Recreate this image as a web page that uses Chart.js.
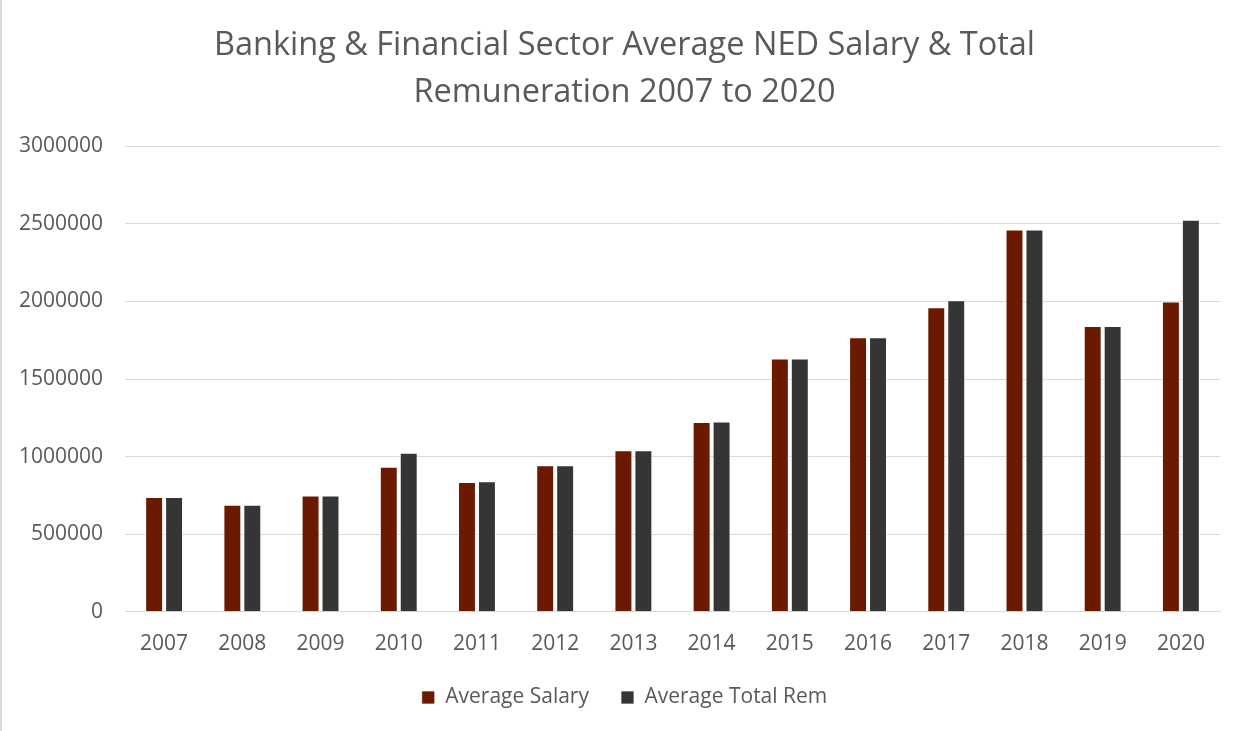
<!DOCTYPE html>
<html>
<head>
<meta charset="utf-8">
<script src="https://cdn.jsdelivr.net/npm/chart.js@4"></script>
<style>
  html, body { margin: 0; padding: 0; background: #fff; }
  #wrap { position: relative; width: 1247px; height: 731px; box-sizing: border-box; border-left: 2px solid #d9d9d9; }
</style>
</head>
<body>
<div id="wrap"><canvas id="nedChart"></canvas></div>
<script>
// values
const years = ['2007', '2008', '2009', '2010', '2011', '2012', '2013', '2014', '2015', '2016', '2017', '2018', '2019', '2020'];
const avgSalary = [740000, 690000, 750000, 935000, 837000, 944000, 1041000, 1223000, 1632000, 1769000, 1962000, 2464000, 1842000, 2000000];
const avgTotalRem = [740000, 690000, 750000, 1025000, 841000, 944000, 1041000, 1227000, 1632000, 1769000, 2007000, 2464000, 1842000, 2527000];
const yTicks = [0, 500000, 1000000, 1500000, 2000000, 2500000, 3000000];

const txt = '#595959';
const font = "'Open Sans', Lato, sans-serif";

new Chart(document.getElementById('nedChart'), {
    type: 'bar',
    data: {
        labels: years,
        datasets: [
            { label: 'Average Salary', data: avgSalary, backgroundColor: '#6B1A00', borderColor: 'rgba(255,255,255,0.7)', borderWidth: 1, barPercentage: 0.9, categoryPercentage: 0.51 },
            { label: 'Average Total Rem', data: avgTotalRem, backgroundColor: '#353535', borderColor: 'rgba(255,255,255,0.7)', borderWidth: 1, barPercentage: 0.9, categoryPercentage: 0.51 }
        ]
    },
    options: {
        responsive: true,
        maintainAspectRatio: false,
        animation: false,
        layout: { padding: { top: 22, left: 0, right: 0, bottom: 13 } },
        plugins: {
            title: {
                display: true,
                text: ['Banking & Financial Sector Average NED Salary & Total', 'Remuneration 2007 to 2020'],
                color: txt,
                font: { family: font, size: 32.5, weight: 'normal', lineHeight: 1.45 },
                padding: { top: 0, bottom: 30 }
            },
            legend: {
                position: 'bottom',
                labels: { color: txt, font: { family: font, size: 21 }, boxWidth: 13, boxHeight: 13, padding: 32 }
            },
            tooltip: { enabled: false }
        },
        scales: {
            x: {
                grid: { display: false },
                border: { color: '#d9d9d9', width: 1 },
                ticks: { color: txt, font: { family: font, size: 21 }, padding: 12 },
                afterFit: s => { s.height -= 14; }
            },
            y: {
                min: 0,
                max: 3000000,
                afterBuildTicks: axis => { axis.ticks = yTicks.map(v => ({ value: v })); },
                afterFit: s => { s.width = 123; },
                grid: { color: '#d9d9d9', lineWidth: 1, drawTicks: false },
                border: { display: false },
                ticks: { color: txt, font: { family: font, size: 21 }, padding: 22, callback: v => String(v) }
            },
            // empty right-hand spacer so the plot ends where the reference does
            spacer: {
                type: 'linear',
                position: 'right',
                display: true,
                grid: { display: false, drawTicks: false },
                border: { display: false },
                ticks: { display: false },
                afterFit: s => { s.width = 27; }
            }
        }
    }
});
</script>
</body>
</html>
